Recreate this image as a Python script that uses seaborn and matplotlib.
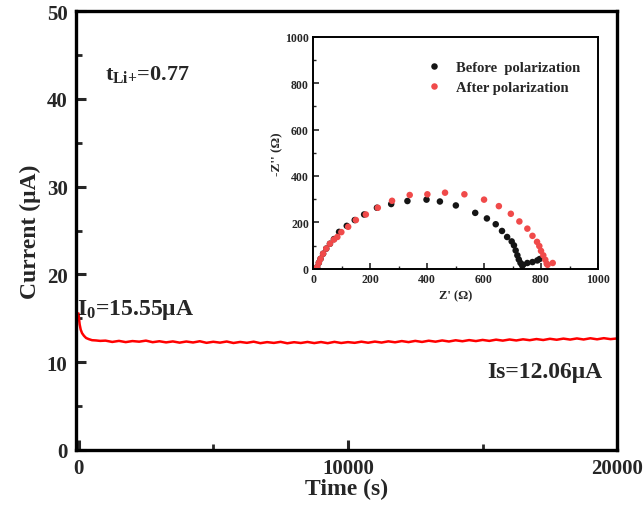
import numpy as np
import pandas as pd
import matplotlib
matplotlib.use("Agg")
import matplotlib.pyplot as plt
import seaborn as sns
from matplotlib.ticker import MultipleLocator

# ---------------- data ----------------
time_s = [0, 15, 40, 80, 130, 200, 280, 380, 500, 650, 800,
          1000, 1250, 1500, 1750, 2000, 2250, 2500, 2750, 3000, 3250, 3500, 3750,
          4000, 4250, 4500, 4750, 5000, 5250, 5500, 5750, 6000, 6250, 6500, 6750,
          7000, 7250, 7500, 7750, 8000, 8250, 8500, 8750, 9000, 9250, 9500, 9750,
          10000, 10250, 10500, 10750, 11000, 11250, 11500, 11750, 12000, 12250, 12500, 12750,
          13000, 13250, 13500, 13750, 14000, 14250, 14500, 14750, 15000, 15250, 15500, 15750,
          16000, 16250, 16500, 16750, 17000, 17250, 17500, 17750, 18000, 18250, 18500, 18750,
          19000, 19250, 19500, 19750, 20000]
current_uA = [15.55, 15.0, 14.3, 13.7, 13.3, 13.0, 12.75, 12.62, 12.5, 12.47, 12.42,
              12.45, 12.30, 12.42, 12.28, 12.40, 12.33, 12.45, 12.27, 12.38, 12.25, 12.36, 12.22,
              12.35, 12.24, 12.38, 12.20, 12.32, 12.22, 12.35, 12.18, 12.30, 12.20, 12.33, 12.16,
              12.28, 12.19, 12.31, 12.15, 12.27, 12.18, 12.30, 12.17, 12.29, 12.16, 12.31, 12.18,
              12.28, 12.20, 12.33, 12.21, 12.34, 12.23, 12.37, 12.26, 12.40, 12.28, 12.42, 12.30,
              12.44, 12.33, 12.47, 12.35, 12.49, 12.38, 12.51, 12.40, 12.53, 12.42, 12.56, 12.45,
              12.58, 12.47, 12.60, 12.50, 12.63, 12.52, 12.66, 12.55, 12.68, 12.57, 12.70, 12.58,
              12.72, 12.60, 12.73, 12.62, 12.70]

before_zre = [14, 20, 26, 35, 46, 59, 73, 91, 118, 146, 179, 224, 274, 331, 398, 445, 501,
              569, 610, 641, 663, 681, 697, 705, 711, 717, 722, 728, 734, 737, 752, 770, 787, 795]
before_zim = [7, 26, 43, 65, 87, 108, 128, 159, 185, 210, 234, 263, 279, 292, 298, 290, 273,
              241, 217, 192, 163, 137, 118, 101, 79, 58, 40, 25, 14, 17, 25, 29, 36, 42]

after_zre = [14, 20, 26, 35, 46, 59, 73, 85, 99, 123, 150, 185, 227, 277, 339, 401, 463,
             531, 600, 652, 694, 724, 752, 770, 786, 794, 800, 808, 815, 820, 823, 841]
after_zim = [7, 26, 43, 65, 87, 108, 126, 137, 158, 181, 210, 234, 263, 293, 318, 321, 328,
             321, 298, 270, 237, 204, 173, 142, 116, 98, 77, 58, 39, 22, 17, 25]

labels = ["Before  polarization", "After polarization"]

# ---------------- style ----------------
sns.set_theme(style="ticks")
plt.rcParams["font.family"] = ["Liberation Serif", "DejaVu Serif"]
plt.rcParams["font.weight"] = "bold"
plt.rcParams["axes.labelweight"] = "bold"
plt.rcParams["mathtext.fontset"] = "custom"
plt.rcParams["mathtext.rm"] = "Liberation Serif:bold"
plt.rcParams["mathtext.it"] = "Liberation Serif:bold"
plt.rcParams["mathtext.bf"] = "Liberation Serif:bold"

fig = plt.figure(figsize=(6.43, 5.10), dpi=100)
ax = fig.add_axes([0.118, 0.116, 0.842, 0.860])

df_main = pd.DataFrame({"t": time_s, "I": current_uA})
sns.lineplot(data=df_main, x="t", y="I", ax=ax, color="#ff0000", linewidth=1.8)

ax.set_xlim(-100, 20000)
ax.set_ylim(0, 50)
ax.xaxis.set_major_locator(MultipleLocator(10000))
ax.xaxis.set_minor_locator(MultipleLocator(5000))
ax.yaxis.set_major_locator(MultipleLocator(10))
ax.yaxis.set_minor_locator(MultipleLocator(5))
ax.tick_params(which="major", direction="in", length=7, width=2.2, labelsize=15, pad=6)
ax.tick_params(which="minor", direction="in", length=4, width=2.0)
for lab in ax.get_xticklabels() + ax.get_yticklabels():
    lab.set_fontweight("bold")
for sp in ax.spines.values():
    sp.set_linewidth(2.4)
    sp.set_color("black")
ax.set_xlabel("Time (s)", fontsize=17, fontweight="bold", labelpad=0)
ax.set_ylabel("Current (\u03bcA)", fontsize=17, fontweight="bold", labelpad=4)

ax.text(0.054, 0.845, r"t$_{\mathregular{Li{+}}}$=0.77", transform=ax.transAxes,
        fontsize=16, fontweight="bold")
ax.text(0.003, 0.31, "I$_{\\mathregular{0}}$=15.55\u03bcA",
        transform=ax.transAxes, fontsize=17, fontweight="bold")
ax.text(0.76, 0.165, "Is=12.06\u03bcA", transform=ax.transAxes, fontsize=17, fontweight="bold")

# ---------------- inset ----------------
ins = fig.add_axes([0.487, 0.471, 0.443, 0.455])
df_in = pd.DataFrame({
    "zre": before_zre + after_zre,
    "zim": before_zim + after_zim,
    "state": [labels[0]] * len(before_zre) + [labels[1]] * len(after_zre),
})
sns.scatterplot(data=df_in, x="zre", y="zim", hue="state", ax=ins,
                palette={labels[0]: "#151515", labels[1]: "#f04a4a"},
                s=22, edgecolor=None, linewidth=0)
ins.set_xlim(0, 1000)
ins.set_ylim(0, 1000)
ins.xaxis.set_major_locator(MultipleLocator(200))
ins.xaxis.set_minor_locator(MultipleLocator(100))
ins.yaxis.set_major_locator(MultipleLocator(200))
ins.yaxis.set_minor_locator(MultipleLocator(100))
ins.tick_params(which="major", direction="in", length=4, width=1.2, labelsize=8.5, pad=3)
ins.tick_params(which="minor", direction="in", length=2, width=1.0)
for lab in ins.get_xticklabels() + ins.get_yticklabels():
    lab.set_fontweight("bold")
for sp in ins.spines.values():
    sp.set_linewidth(1.4)
    sp.set_color("black")
ins.set_xlabel("Z' (\u03a9)", fontsize=9, fontweight="bold", labelpad=3)
ins.set_ylabel("-Z'' (\u03a9)", fontsize=9.5, fontweight="bold")
ins.yaxis.set_label_coords(-0.105, 0.5)
leg = ins.legend(loc="upper left", bbox_to_anchor=(0.353, 0.92), borderaxespad=0,
                 frameon=False, prop={"size": 10.5, "weight": "bold"},
                 handletextpad=0.5, labelspacing=0.45, markerscale=1.0)

fig.savefig("out.png", dpi=100)
